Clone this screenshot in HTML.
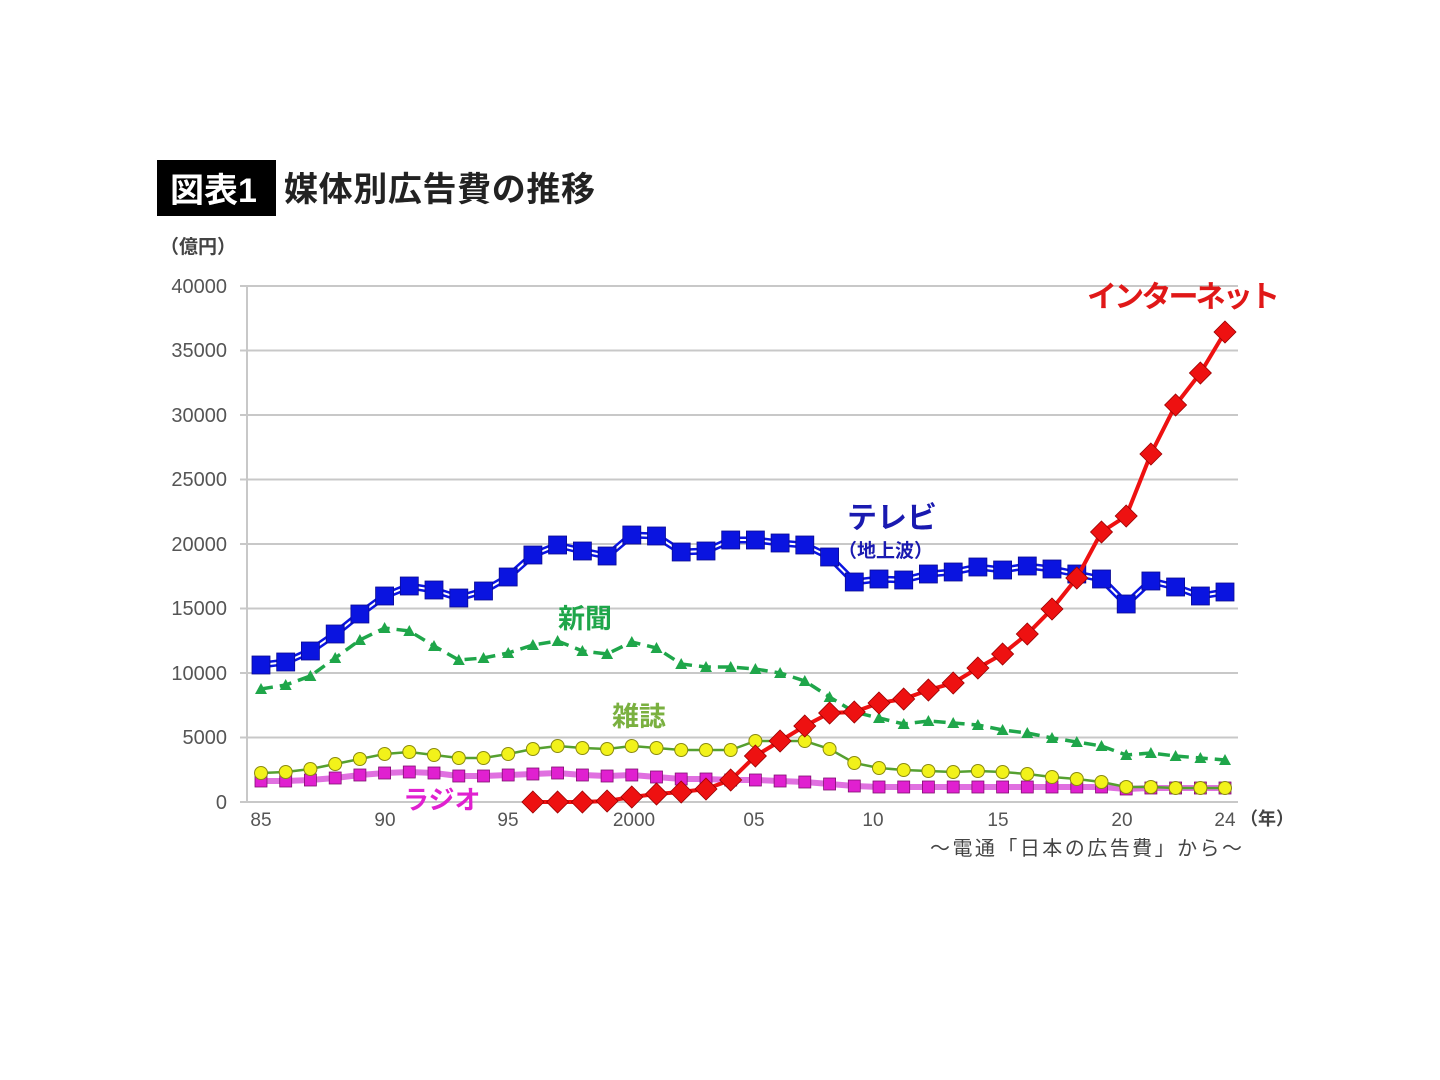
<!DOCTYPE html>
<html><head><meta charset="utf-8"><style>
body{margin:0;background:#fff;}
svg{display:block;font-family:"Liberation Sans","Noto Sans CJK JP",sans-serif;}
</style></head><body>
<svg width="1440" height="1080" viewBox="0 0 1440 1080" xmlns="http://www.w3.org/2000/svg">
<defs>
<marker id="sq" viewBox="0 0 20 20" markerWidth="20" markerHeight="20" markerUnits="userSpaceOnUse" refX="10" refY="10"><rect x="1" y="1" width="18" height="18" fill="#0a14e0" stroke="#0a0a90" stroke-width="0.8"/></marker>
<marker id="tri" viewBox="0 0 14 14" markerWidth="14" markerHeight="14" markerUnits="userSpaceOnUse" refX="7" refY="7"><polygon points="7,1 13,12 1,12" fill="#1fa64a"/></marker>
<marker id="ci" viewBox="0 0 16 16" markerWidth="16" markerHeight="16" markerUnits="userSpaceOnUse" refX="8" refY="8"><circle cx="8" cy="8" r="6.5" fill="#f2f21a" stroke="#8a8a10" stroke-width="1"/></marker>
<marker id="ms" viewBox="0 0 14 14" markerWidth="14" markerHeight="14" markerUnits="userSpaceOnUse" refX="7" refY="7"><rect x="1" y="1" width="12" height="12" fill="#e020d0" stroke="#801070" stroke-width="0.8"/></marker>
<marker id="dia" viewBox="0 0 24 24" markerWidth="24" markerHeight="24" markerUnits="userSpaceOnUse" refX="12" refY="12"><polygon points="12,1 23,12 12,23 1,12" fill="#ee1111" stroke="#900" stroke-width="0.8"/></marker>
</defs>
<rect x="157" y="160" width="119" height="56" fill="#000"/>
<text x="170" y="202" font-size="34" font-weight="bold" fill="#fff">図表1</text>
<text x="284" y="201" font-size="34" font-weight="bold" fill="#222" textLength="311">媒体別広告費の推移</text>
<text x="160" y="253" font-size="19" fill="#444" font-weight="bold">（億円）</text>
<g stroke="#c8c8c8" stroke-width="2">
<line x1="240" y1="286" x2="1238" y2="286"/><line x1="240" y1="350.5" x2="1238" y2="350.5"/><line x1="240" y1="415" x2="1238" y2="415"/><line x1="240" y1="479.5" x2="1238" y2="479.5"/><line x1="240" y1="544" x2="1238" y2="544"/><line x1="240" y1="608.5" x2="1238" y2="608.5"/><line x1="240" y1="673" x2="1238" y2="673"/><line x1="240" y1="737.5" x2="1238" y2="737.5"/><line x1="240" y1="802" x2="1238" y2="802"/><line x1="247" y1="286" x2="247" y2="802"/>
</g>
<g font-size="20" fill="#555" text-anchor="end">
<text x="227" y="293">40000</text><text x="227" y="357">35000</text><text x="227" y="422">30000</text><text x="227" y="486">25000</text><text x="227" y="551">20000</text><text x="227" y="615">15000</text><text x="227" y="680">10000</text><text x="227" y="744">5000</text><text x="227" y="809">0</text>
</g>
<g font-size="19" fill="#555" text-anchor="middle">
<text x="261" y="826">85</text><text x="385" y="826">90</text><text x="508" y="826">95</text><text x="634" y="826">2000</text><text x="754" y="826">05</text><text x="873" y="826">10</text><text x="998" y="826">15</text><text x="1122" y="826">20</text><text x="1225" y="826">24</text>
</g>
<text x="1240" y="825" font-size="18" fill="#444" font-weight="bold">（年）</text>
<text x="930" y="855" font-size="20" fill="#444" textLength="312">～電通「日本の広告費」から～</text>

<!-- radio -->
<polyline fill="none" stroke="#e070e0" stroke-width="6" marker-start="url(#ms)" marker-mid="url(#ms)" marker-end="url(#ms)" points="261,781 285.7,781 310.4,780 335.2,778 359.9,775 384.6,773 409.3,772 434,773 458.8,776 483.5,776 508.2,775 532.9,774 557.6,773 582.4,775 607.1,776 631.8,775 656.5,777 681.2,779 706,779 730.7,780 755.4,780 780.1,781 804.8,782 829.6,784 854.3,786 879,787 903.7,787 928.4,787 953.2,787 977.9,787 1002.6,787 1027.3,787 1052,787 1076.8,787 1101.5,787 1126.2,789 1150.9,788 1175.6,788 1200.4,788 1225,788"/>
<!-- magazine -->
<polyline fill="none" stroke="#55a030" stroke-width="2.5" marker-start="url(#ci)" marker-mid="url(#ci)" marker-end="url(#ci)" points="261,773 285.7,772 310.4,769 335.2,764 359.9,759 384.6,754 409.3,752 434,755 458.8,758 483.5,758 508.2,754 532.9,749 557.6,746 582.4,748 607.1,749 631.8,746 656.5,748 681.2,750 706,750 730.7,750 755.4,741 780.1,741 804.8,741 829.6,749 854.3,763 879,768 903.7,770 928.4,771 953.2,772 977.9,771 1002.6,772 1027.3,774 1052,777 1076.8,779 1101.5,782 1126.2,787 1150.9,787 1175.6,788 1200.4,788 1225,788"/>
<!-- newspaper -->
<polyline fill="none" stroke="#1fa64a" stroke-width="3.5" stroke-dasharray="12,7" marker-start="url(#tri)" marker-mid="url(#tri)" marker-end="url(#tri)" points="261,689 285.7,685 310.4,676 335.2,658 359.9,640 384.6,628 409.3,631 434,646 458.8,660 483.5,658 508.2,653 532.9,645 557.6,641 582.4,651 607.1,654 631.8,642 656.5,648 681.2,664 706,667 730.7,667 755.4,669 780.1,673 804.8,681 829.6,697 854.3,712 879,718 903.7,724 928.4,721 953.2,723 977.9,725 1002.6,730 1027.3,733 1052,738 1076.8,742 1101.5,746 1126.2,755 1150.9,753 1175.6,756 1200.4,758 1225,760"/>
<!-- TV -->
<polyline fill="none" stroke="#0a14e0" stroke-width="7" points="261,665 285.7,662 310.4,651 335.2,634 359.9,614 384.6,596 409.3,586 434,590 458.8,598 483.5,591 508.2,577 532.9,555 557.6,545 582.4,551 607.1,556 631.8,535 656.5,536 681.2,552 706,551 730.7,540 755.4,540 780.1,543 804.8,545 829.6,557 854.3,582 879,579 903.7,580 928.4,574 953.2,572 977.9,567 1002.6,570 1027.3,566 1052,569 1076.8,574 1101.5,579 1126.2,604 1150.9,581 1175.6,587 1200.4,596 1225,592"/>
<polyline fill="none" stroke="#fff" stroke-width="2" points="261,665 285.7,662 310.4,651 335.2,634 359.9,614 384.6,596 409.3,586 434,590 458.8,598 483.5,591 508.2,577 532.9,555 557.6,545 582.4,551 607.1,556 631.8,535 656.5,536 681.2,552 706,551 730.7,540 755.4,540 780.1,543 804.8,545 829.6,557 854.3,582 879,579 903.7,580 928.4,574 953.2,572 977.9,567 1002.6,570 1027.3,566 1052,569 1076.8,574 1101.5,579 1126.2,604 1150.9,581 1175.6,587 1200.4,596 1225,592"/>
<polyline fill="none" stroke="none" marker-start="url(#sq)" marker-mid="url(#sq)" marker-end="url(#sq)" points="261,665 285.7,662 310.4,651 335.2,634 359.9,614 384.6,596 409.3,586 434,590 458.8,598 483.5,591 508.2,577 532.9,555 557.6,545 582.4,551 607.1,556 631.8,535 656.5,536 681.2,552 706,551 730.7,540 755.4,540 780.1,543 804.8,545 829.6,557 854.3,582 879,579 903.7,580 928.4,574 953.2,572 977.9,567 1002.6,570 1027.3,566 1052,569 1076.8,574 1101.5,579 1126.2,604 1150.9,581 1175.6,587 1200.4,596 1225,592"/>
<!-- internet -->
<polyline fill="none" stroke="#ee1111" stroke-width="4" marker-start="url(#dia)" marker-mid="url(#dia)" marker-end="url(#dia)" points="532.9,802 557.6,802 582.4,802 607.1,801 631.8,797 656.5,794 681.2,792 706,789 730.7,780 755.4,756 780.1,741 804.8,726 829.6,713 854.3,712 879,703 903.7,699 928.4,690 953.2,683 977.9,668 1002.6,654 1027.3,634 1052,609 1076.8,578 1101.5,532 1126.2,516 1150.9,454 1175.6,405 1200.4,373 1225,332"/>

<text x="1087" y="307" font-size="30" font-weight="bold" fill="#e01818" textLength="193">インターネット</text>
<text x="847" y="528" font-size="30" font-weight="bold" fill="#1a1ab0">テレビ</text>
<text x="838" y="557" font-size="19" font-weight="bold" fill="#1a1ab0">（地上波）</text>
<text x="558" y="628" font-size="27" font-weight="bold" fill="#1fa64a">新聞</text>
<text x="612" y="726" font-size="27" font-weight="bold" fill="#7ab040">雑誌</text>
<text x="403" y="809" font-size="26" font-weight="bold" fill="#e020d0">ラジオ</text>
</svg>
</body></html>
